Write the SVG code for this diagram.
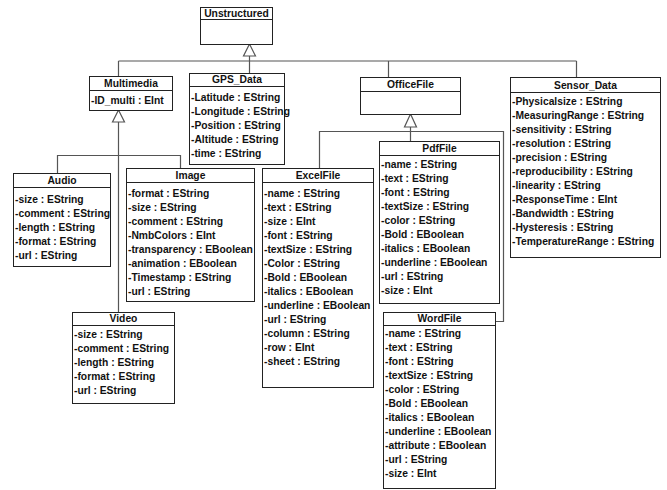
<svg xmlns="http://www.w3.org/2000/svg" width="667" height="490" viewBox="0 0 667 490">
<style>
.box{fill:#fff;stroke:#222;stroke-width:1}
.sep{stroke:#222;stroke-width:1}
.t{font-family:"Liberation Sans",Arial,sans-serif;font-size:10.3px;font-weight:bold;fill:#111}
.h{text-anchor:middle}
.c{fill:none;stroke:#555;stroke-width:1.2}
.tri{fill:#fff;stroke:#555;stroke-width:1.2}
</style>
<rect width="667" height="490" fill="#fff"/>
<g id="connectors">
<path class="c" d="M249.5,56 V73 M118.5,61 H576.5 M118.5,61 V76 M388.5,61 V77 M576.5,61 V77"/>
<path class="c" d="M118.5,122 V312 M57.5,173 V155.5 H180.5 V168"/>
<path class="c" d="M410.5,127 V141 M319.5,168 V131.5 H503.5 V321.5 H495"/>
<polygon class="tri" points="249.5,44 243.5,56 255.5,56"/>
<polygon class="tri" points="118.5,110 112.5,122 124.5,122"/>
<polygon class="tri" points="410.5,114 404.5,127 416.5,127"/>
</g>
<g id="Unstructured">
<rect class="box" x="200.5" y="7.5" width="72" height="37"/>
<line class="sep" x1="200.5" y1="19.5" x2="272.5" y2="19.5"/>
<text class="t h" x="236.5" y="17">Unstructured</text>
</g>
<g id="Multimedia">
<rect class="box" x="89.5" y="76.5" width="83" height="34"/>
<line class="sep" x1="89.5" y1="90.5" x2="172.5" y2="90.5"/>
<text class="t h" x="131" y="87">Multimedia</text>
<text class="t" x="91" y="104">-ID_multi : EInt</text>
</g>
<g id="GPS_Data">
<rect class="box" x="189.5" y="73.5" width="95" height="91"/>
<line class="sep" x1="189.5" y1="86.5" x2="284.5" y2="86.5"/>
<text class="t h" x="237" y="83">GPS_Data</text>
<text class="t" x="191" y="100.5">-Latitude : EString</text>
<text class="t" x="191" y="114.5">-Longitude : EString</text>
<text class="t" x="191" y="128.5">-Position : EString</text>
<text class="t" x="191" y="142.5">-Altitude : EString</text>
<text class="t" x="191" y="156.5">-time : EString</text>
</g>
<g id="OfficeFile">
<rect class="box" x="360.5" y="77.5" width="100" height="37"/>
<line class="sep" x1="360.5" y1="91.5" x2="460.5" y2="91.5"/>
<text class="t h" x="410.5" y="88">OfficeFile</text>
</g>
<g id="Sensor_Data">
<rect class="box" x="510.5" y="77.5" width="150" height="180"/>
<line class="sep" x1="510.5" y1="92.5" x2="660.5" y2="92.5"/>
<text class="t h" x="585.5" y="88.5">Sensor_Data</text>
<text class="t" x="512" y="104.5">-Physicalsize : EString</text>
<text class="t" x="512" y="118.5">-MeasuringRange : EString</text>
<text class="t" x="512" y="132.5">-sensitivity : EString</text>
<text class="t" x="512" y="146.5">-resolution : EString</text>
<text class="t" x="512" y="160.5">-precision : EString</text>
<text class="t" x="512" y="174.5">-reproducibility : EString</text>
<text class="t" x="512" y="188.5">-linearity : EString</text>
<text class="t" x="512" y="202.5">-ResponseTime : EInt</text>
<text class="t" x="512" y="216.5">-Bandwidth : EString</text>
<text class="t" x="512" y="230.5">-Hysteresis : EString</text>
<text class="t" x="512" y="244.5">-TemperatureRange : EString</text>
</g>
<g id="Audio">
<rect class="box" x="13.5" y="173.5" width="97" height="93"/>
<line class="sep" x1="13.5" y1="187.5" x2="110.5" y2="187.5"/>
<text class="t h" x="62" y="184">Audio</text>
<text class="t" x="15" y="202.5">-size : EString</text>
<text class="t" x="15" y="216.5">-comment : EString</text>
<text class="t" x="15" y="230.5">-length : EString</text>
<text class="t" x="15" y="244.5">-format : EString</text>
<text class="t" x="15" y="258.5">-url : EString</text>
</g>
<g id="Image">
<rect class="box" x="126.5" y="168.5" width="128" height="133"/>
<line class="sep" x1="126.5" y1="182.5" x2="254.5" y2="182.5"/>
<text class="t h" x="190.5" y="179">Image</text>
<text class="t" x="128" y="196.5">-format : EString</text>
<text class="t" x="128" y="210.5">-size : EString</text>
<text class="t" x="128" y="224.5">-comment : EString</text>
<text class="t" x="128" y="238.5">-NmbColors : EInt</text>
<text class="t" x="128" y="252.5">-transparency : EBoolean</text>
<text class="t" x="128" y="266.5">-animation : EBoolean</text>
<text class="t" x="128" y="280.5">-Timestamp : EString</text>
<text class="t" x="128" y="294.5">-url : EString</text>
</g>
<g id="Video">
<rect class="box" x="72.5" y="312.5" width="102" height="91"/>
<line class="sep" x1="72.5" y1="325.5" x2="174.5" y2="325.5"/>
<text class="t h" x="123.5" y="322">Video</text>
<text class="t" x="74" y="337.5">-size : EString</text>
<text class="t" x="74" y="351.5">-comment : EString</text>
<text class="t" x="74" y="365.5">-length : EString</text>
<text class="t" x="74" y="379.5">-format : EString</text>
<text class="t" x="74" y="393.5">-url : EString</text>
</g>
<g id="ExcelFile">
<rect class="box" x="262.5" y="168.5" width="111" height="219"/>
<line class="sep" x1="262.5" y1="182.5" x2="373.5" y2="182.5"/>
<text class="t h" x="318" y="179">ExcelFile</text>
<text class="t" x="264" y="196.5">-name : EString</text>
<text class="t" x="264" y="210.5">-text : EString</text>
<text class="t" x="264" y="224.5">-size : EInt</text>
<text class="t" x="264" y="238.5">-font : EString</text>
<text class="t" x="264" y="252.5">-textSize : EString</text>
<text class="t" x="264" y="266.5">-Color : EString</text>
<text class="t" x="264" y="280.5">-Bold : EBoolean</text>
<text class="t" x="264" y="294.5">-italics : EBoolean</text>
<text class="t" x="264" y="308.5">-underline : EBoolean</text>
<text class="t" x="264" y="322.5">-url : EString</text>
<text class="t" x="264" y="336.5">-column : EString</text>
<text class="t" x="264" y="350.5">-row : EInt</text>
<text class="t" x="264" y="364.5">-sheet : EString</text>
</g>
<g id="PdfFile">
<rect class="box" x="379.5" y="141.5" width="120" height="162"/>
<line class="sep" x1="379.5" y1="155.5" x2="499.5" y2="155.5"/>
<text class="t h" x="439.5" y="152">PdfFile</text>
<text class="t" x="381" y="167.5">-name : EString</text>
<text class="t" x="381" y="181.5">-text : EString</text>
<text class="t" x="381" y="195.5">-font : EString</text>
<text class="t" x="381" y="209.5">-textSize : EString</text>
<text class="t" x="381" y="223.5">-color : EString</text>
<text class="t" x="381" y="237.5">-Bold : EBoolean</text>
<text class="t" x="381" y="251.5">-italics : EBoolean</text>
<text class="t" x="381" y="265.5">-underline : EBoolean</text>
<text class="t" x="381" y="279.5">-url : EString</text>
<text class="t" x="381" y="293.5">-size : EInt</text>
</g>
<g id="WordFile">
<rect class="box" x="383.5" y="312.5" width="112" height="176"/>
<line class="sep" x1="383.5" y1="325.5" x2="495.5" y2="325.5"/>
<text class="t h" x="439.5" y="322">WordFile</text>
<text class="t" x="385" y="337">-name : EString</text>
<text class="t" x="385" y="351">-text : EString</text>
<text class="t" x="385" y="365">-font : EString</text>
<text class="t" x="385" y="379">-textSize : EString</text>
<text class="t" x="385" y="393">-color : EString</text>
<text class="t" x="385" y="407">-Bold : EBoolean</text>
<text class="t" x="385" y="421">-italics : EBoolean</text>
<text class="t" x="385" y="435">-underline : EBoolean</text>
<text class="t" x="385" y="449">-attribute : EBoolean</text>
<text class="t" x="385" y="463">-url : EString</text>
<text class="t" x="385" y="477">-size : EInt</text>
</g>
</svg>
